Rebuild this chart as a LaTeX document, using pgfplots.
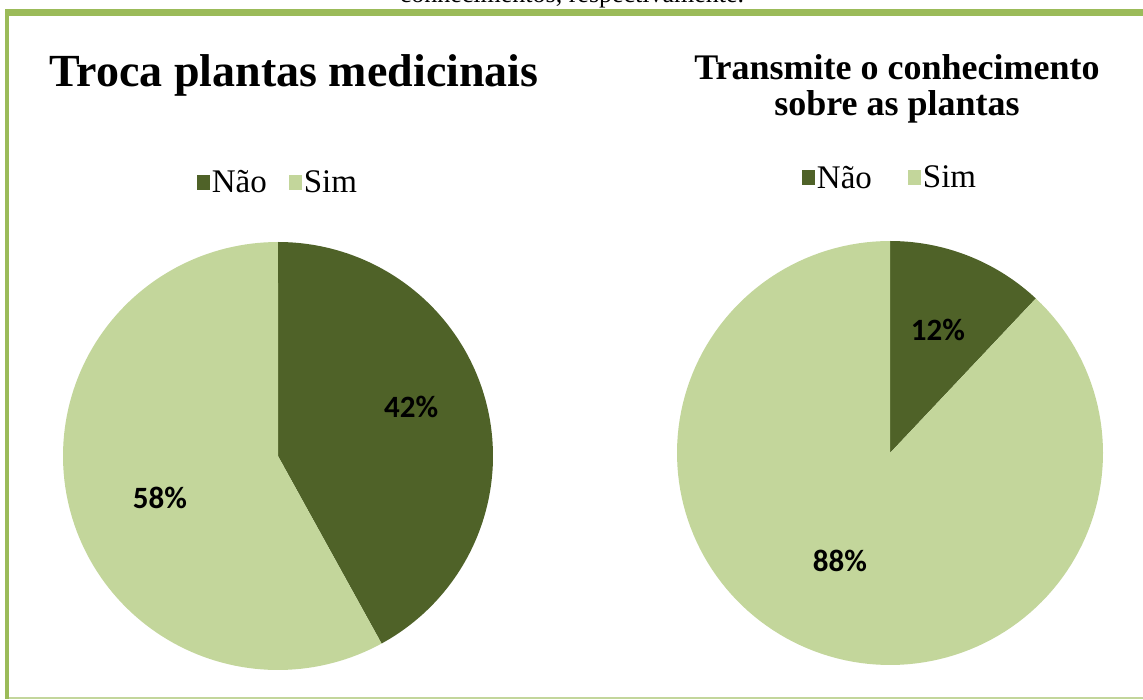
\documentclass[border=0pt]{standalone}
\usepackage{pgfplots}
\pgfplotsset{compat=1.18}
\usepackage{pgfplotstable}
\usepackage{fontspec}
\setmainfont{Liberation Serif}
\newfontfamily\calib{Carlito}
\definecolor{darkg}{HTML}{4F6228}
\definecolor{lightg}{HTML}{C3D69B}
\definecolor{frameg}{HTML}{9BBB59}

\pgfplotstableread{
cat value
Nao 42
Sim 58
}\troca
\pgfplotstableread{
cat value
Nao 12
Sim 88
}\transmite

\pgfplotsset{piestyle/.style={hide axis, scale only axis, xmin=-1,xmax=1,ymin=-1,ymax=1,
  clip=false, anchor=center, legend columns=-1,
  legend style={draw=none, fill=none, anchor=center, inner sep=0pt,
    font=\fontsize{33}{36}\selectfont},
  legend image code/.code={\fill[##1] (0pt,-7.5pt) rectangle (13pt,7.5pt);}}}

\begin{document}
\begin{tikzpicture}[x=1pt,y=1pt]
\useasboundingbox (0,0) rectangle (1143,699);
\clip (0,0) rectangle (1143,699);
\fill[white] (0,0) rectangle (1143,699);
\fill[frameg] (5,0) rectangle (9,690);
\fill[frameg] (5,683) rectangle (1143,690);
\fill[lightg] (9,0) rectangle (1143,2);
\node[anchor=base, inner sep=0pt, font=\fontsize{26}{30}\selectfont] at (572,696) {conhecimentos, respectivamente.};

\node[anchor=base, inner sep=0pt, font=\fontsize{46}{50}\selectfont\bfseries] at (294,612) {Troca plantas medicinais};
\node[anchor=base, inner sep=0pt, font=\fontsize{36}{40}\selectfont\bfseries] at (897,619) {Transmite o conhecimento};
\node[anchor=base, inner sep=0pt, font=\fontsize{36}{40}\selectfont\bfseries] at (897,583) {sobre as plantas};

\pgfplotstablegetelem{0}{value}\of\troca \pgfmathsetmacro\aA{3.6*\pgfplotsretval}
\pgfplotstablegetelem{0}{value}\of\transmite \pgfmathsetmacro\aB{3.6*\pgfplotsretval}

\begin{axis}[piestyle, width=430pt, height=428pt, at={(278pt,243pt)},
  legend style={at={(0.5,1.140)}, /tikz/every even column/.append style={column sep=20pt}}]
\addplot[fill=darkg, draw=none, domain=0:\aA, samples=120, variable=\t]
  ({sin(\t)},{cos(\t)}) -- (axis cs:0,0) -- cycle;
\addlegendentry{Não}
\addplot[fill=lightg, draw=none, domain=\aA:360, samples=120, variable=\t]
  ({sin(\t)},{cos(\t)}) -- (axis cs:0,0) -- cycle;
\addlegendentry{Sim}
\node[font={\calib\bfseries\fontsize{31}{33}\selectfont}] at (axis cs:0.619,0.229) {42\%};
\node[font={\calib\bfseries\fontsize{31}{33}\selectfont}] at (axis cs:-0.549,-0.196) {58\%};
\end{axis}

\begin{axis}[piestyle, width=426pt, height=424pt, at={(890pt,246pt)},
  legend style={at={(0.5,1.149)}, /tikz/every even column/.append style={column sep=34pt}}]
\addplot[fill=darkg, draw=none, domain=0:\aB, samples=60, variable=\t]
  ({sin(\t)},{cos(\t)}) -- (axis cs:0,0) -- cycle;
\addlegendentry{Não}
\addplot[fill=lightg, draw=none, domain=\aB:360, samples=150, variable=\t]
  ({sin(\t)},{cos(\t)}) -- (axis cs:0,0) -- cycle;
\addlegendentry{Sim}
\node[font={\calib\bfseries\fontsize{31}{33}\selectfont}] at (axis cs:0.225,0.58) {12\%};
\node[font={\calib\bfseries\fontsize{31}{33}\selectfont}] at (axis cs:-0.235,-0.509) {88\%};
\end{axis}
\end{tikzpicture}
\end{document}
